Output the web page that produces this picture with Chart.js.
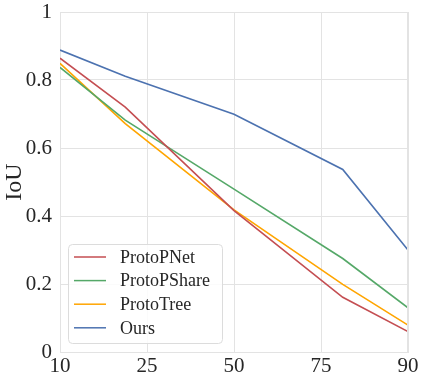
<!DOCTYPE html>
<html><head><meta charset="utf-8">
<script src="https://cdn.jsdelivr.net/npm/chart.js@4/dist/chart.umd.min.js"></script>
<style>html,body{margin:0;padding:0;background:#fff}#wrap{width:423px;height:380px}</style>
</head><body><div id="wrap"><canvas id="c" width="423" height="380"></canvas></div>
<script>
const xValues = [10, 25, 50, 75, 90];
const xTickPositions = [10, 30, 50, 70, 90];
const xTickLabels = ['10', '25', '50', '75', '90'];
const yTickValues = [0, 0.2, 0.4, 0.6, 0.8, 1];
const yTickLabels = ['0', '0.2', '0.4', '0.6', '0.8', '1'];
const protoPNet = [0.864, 0.72, 0.416, 0.161, 0.06];
const protoPShare = [0.837, 0.682, 0.479, 0.275, 0.13];
const protoTree = [0.849, 0.672, 0.418, 0.199, 0.079];
const ours = [0.888, 0.811, 0.699, 0.537, 0.30];
const seriesNames = ['ProtoPNet', 'ProtoPShare', 'ProtoTree', 'Ours'];
const colors = ['#C44E52', '#55A868', '#FFA500', '#4C72B0'];
const FONT = "'Liberation Serif', 'DejaVu Serif', serif";

function pts(ys){ return xValues.map((x,i)=>({x:x, y:ys[i]})); }
const allSeries = [protoPNet, protoPShare, protoTree, ours];

const legendPlugin = {
  id: 'insideLegend',
  afterDraw(chart){
    const ctx = chart.ctx;
    const x0 = 68, y0 = 244, w = 154, h = 99, r = 4;
    ctx.save();
    ctx.beginPath();
    ctx.roundRect(x0+0.5, y0+0.5, w, h, r);
    ctx.fillStyle = 'rgba(255,255,255,0.85)';
    ctx.fill();
    ctx.strokeStyle = '#dcdcdc';
    ctx.lineWidth = 1;
    ctx.stroke();
    ctx.font = "18px " + FONT;
    ctx.textBaseline = 'middle';
    chart.data.datasets.forEach((ds, i) => {
      const y = 257 + i * 23.6;
      ctx.beginPath();
      ctx.moveTo(74, y); ctx.lineTo(106, y);
      ctx.strokeStyle = ds.borderColor; ctx.lineWidth = 1.5;
      ctx.stroke();
      ctx.fillStyle = '#262626';
      ctx.fillText(ds.label, 120, y + 1);
    });
    ctx.restore();
  }
};

new Chart(document.getElementById('c'), {
  type: 'line',
  data: {
    datasets: allSeries.map((s,i)=>({
      label: seriesNames[i], data: pts(s), borderColor: colors[i], backgroundColor: colors[i],
      borderWidth: 1.6, pointRadius: 0, tension: 0, fill: false
    }))
  },
  options: {
    responsive: false, animation: false, devicePixelRatio: 1,
    layout: { padding: { top: 12, right: 15, left: 0, bottom: 0 } },
    plugins: { legend: { display: false }, tooltip: { enabled: false } },
    scales: {
      x: {
        type: 'linear', min: 10, max: 90,
        afterBuildTicks(scale){ scale.ticks = xTickPositions.map(v=>({value:v})); },
        afterFit(scale){ scale.height = 28; scale.paddingLeft = 0; scale.paddingRight = 0; },
        ticks: { callback: (v) => xTickLabels[xTickPositions.indexOf(v)], font: { family: FONT, size: 21 }, color: '#262626', padding: 2, maxRotation: 0 },
        grid: { color: '#e3e3e3', lineWidth: 1, drawTicks: false },
        border: { color: '#e3e3e3' }
      },
      y: {
        min: 0, max: 1,
        afterBuildTicks(scale){ scale.ticks = yTickValues.map(v=>({value:v})); },
        afterFit(scale){ scale.width = 60; scale.paddingTop = 0; scale.paddingBottom = 0; },
        ticks: { callback: (v) => yTickLabels[yTickValues.indexOf(v)], font: { family: FONT, size: 21 }, color: '#262626', padding: 8 },
        grid: { color: '#e3e3e3', lineWidth: 1, drawTicks: false },
        border: { color: '#e3e3e3' },
        title: { display: true, text: 'IoU', font: { family: FONT, size: 24 }, color: '#262626', padding: 0 }
      }
    }
  },
  plugins: [legendPlugin, {
    id: 'frame',
    afterDraw(chart){
      const a = chart.chartArea, ctx = chart.ctx;
      ctx.save(); ctx.strokeStyle = '#e3e3e3'; ctx.lineWidth = 1;
      ctx.beginPath(); ctx.moveTo(a.left, a.top+0.5); ctx.lineTo(a.right, a.top+0.5);
      ctx.moveTo(a.right-0.5, a.top); ctx.lineTo(a.right-0.5, a.bottom); ctx.stroke(); ctx.restore();
    }
  }]
});
</script></body></html>
